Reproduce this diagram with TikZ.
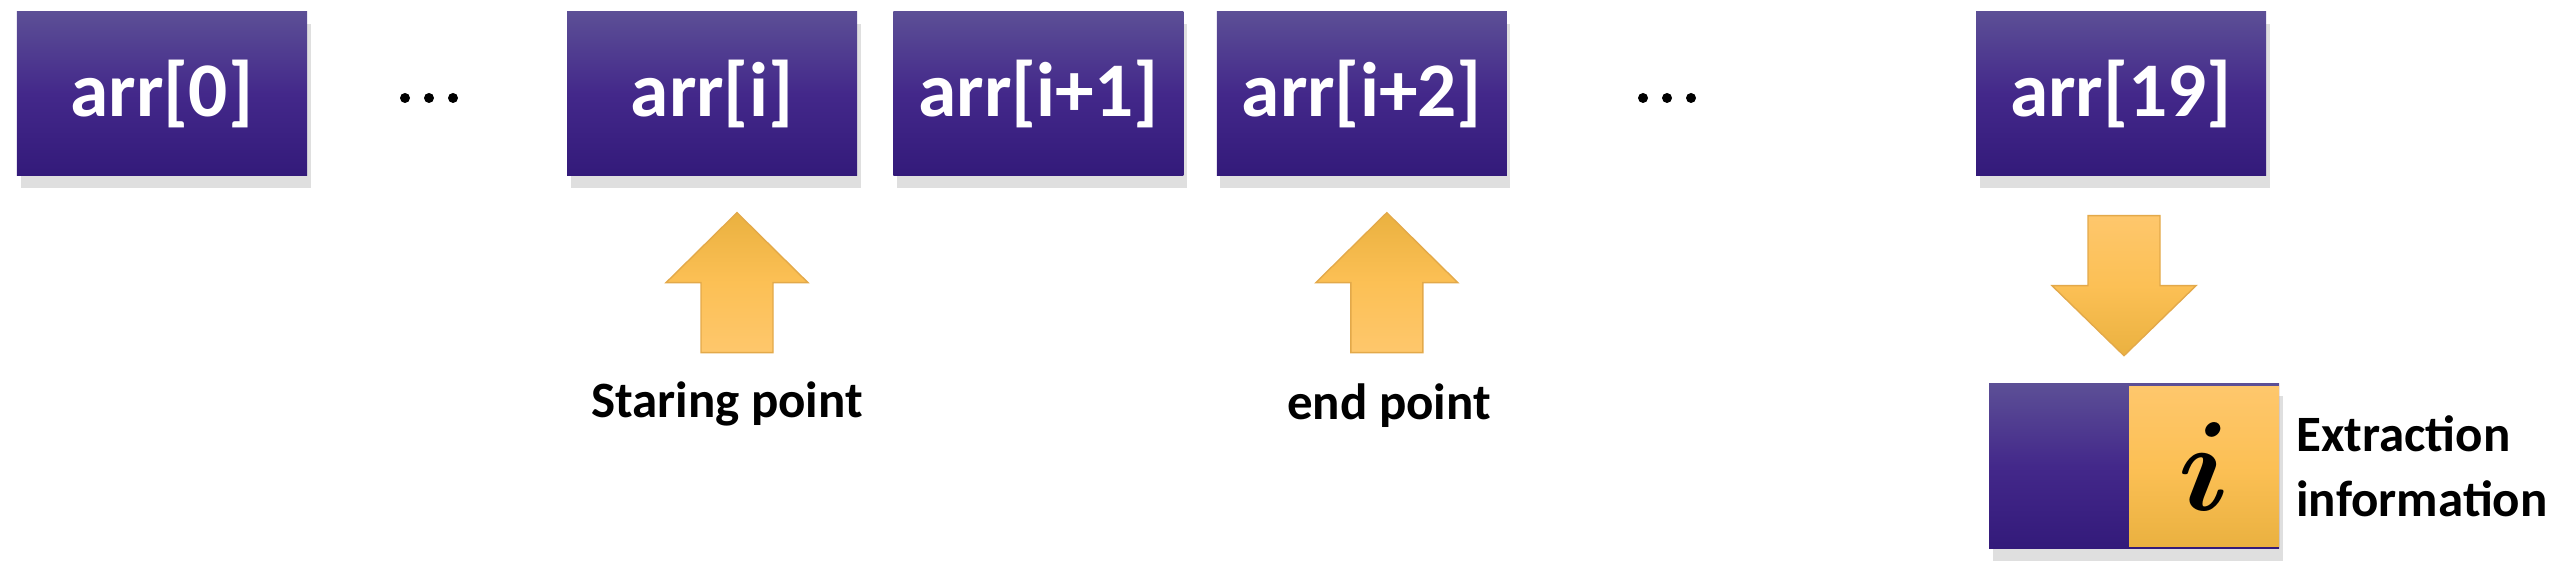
\documentclass[tikz,border=0pt]{standalone}
\usepackage{fontspec}
\setmainfont{Carlito}
\usepackage{amsmath}
\usetikzlibrary{positioning}
\usetikzlibrary{shadows}

\definecolor{purpleTop}{HTML}{5C4F96}
\definecolor{purpleMid}{HTML}{43288A}
\definecolor{purpleBot}{HTML}{331A7A}
\definecolor{goldLight}{HTML}{FEC76C}
\definecolor{goldMid}{HTML}{FCC055}
\definecolor{goldDark}{HTML}{EAB140}
\definecolor{goldLine}{HTML}{E3A94A}

\tikzset{
    cell/.style={rectangle, minimum width=2.9cm, minimum height=1.64cm, inner sep=0pt, text=white,
        top color=purpleTop, bottom color=purpleBot, middle color=purpleMid,
        drop shadow={shadow xshift=1pt, shadow yshift=-3.5pt, opacity=0.25},
        font=\fontsize{22}{26}\selectfont\bfseries},
    idxbox/.style={rectangle, minimum width=1.5cm, minimum height=1.6cm, inner sep=0pt,
        top color=goldLight, bottom color=goldDark, middle color=goldMid,
        font=\fontsize{24}{28}\selectfont},
    lbl/.style={inner sep=0pt, font=\fontsize{14.5}{18.5}\selectfont\bfseries},
    uparrow/.style={draw=goldLine, line width=0.4pt, top color=goldDark, bottom color=goldLight, middle color=goldMid},
    downarrow/.style={draw=goldLine, line width=0.4pt, top color=goldLight, bottom color=goldDark, middle color=goldMid}
}

\begin{document}
\begin{tikzpicture}
            \useasboundingbox (0,0) rectangle (25.70,5.70);

            % array cells
            \node[cell] (firstCell) at (1.62,4.76) {arr[0]};
            \node[cell] (iCell) at (7.12,4.76) {arr[i]};
            \node[cell, right=0.35cm of iCell] (nextCell) {arr[i+1]};
            \node[cell, right=0.32cm of nextCell] (endCell) {arr[i+2]};
            \node[cell] (lastCell) at (21.21,4.76) {arr[19]};

            % gaps
            \coordinate (gapA) at (4.29,4.72);
            \coordinate (gapB) at (16.67,4.72);
            \foreach \dx in {-0.24,0,0.24} {
                \fill (gapA) ++(\dx,0) circle (0.05);
                \fill (gapB) ++(\dx,0) circle (0.05);
            }

            % pointers
            \coordinate[below=0.36cm of iCell.south, xshift=0.25cm] (startTip);
            \coordinate[below=0.36cm of endCell.south, xshift=0.25cm] (endTip);
            \coordinate[below=0.39cm of lastCell.south, xshift=0.03cm] (extTop);

            \path[uparrow] (startTip) -- ++(0.71,-0.70) -- ++(-0.35,0) -- ++(0,-0.70) -- ++(-0.72,0) -- ++(0,0.70) -- ++(-0.35,0) -- cycle;
            \path[uparrow] (endTip) -- ++(0.71,-0.70) -- ++(-0.35,0) -- ++(0,-0.70) -- ++(-0.72,0) -- ++(0,0.70) -- ++(-0.35,0) -- cycle;
            \path[downarrow] (extTop) ++(-0.36,0) -- ++(0.72,0) -- ++(0,-0.70) -- ++(0.36,0) -- ++(-0.72,-0.70) -- ++(-0.72,0.70) -- ++(0.36,0) -- cycle;

            \node[lbl, anchor=base] (startLbl) at (7.27,1.52) {Staring point};
            \node[lbl, anchor=base] (endLbl) at (13.89,1.50) {end point};

            % extracted value
            \node[cell, minimum height=1.65cm] (extCell) at (21.34,1.035) {};
            \node[idxbox, anchor=east] (idxCell) at (extCell.east) {\scalebox{1.45}{$\boldsymbol{i}$}};
            \node[lbl, align=left, right=0.16cm of extCell] (extLbl) {Extraction\\information};
        \end{tikzpicture}
\end{document}
